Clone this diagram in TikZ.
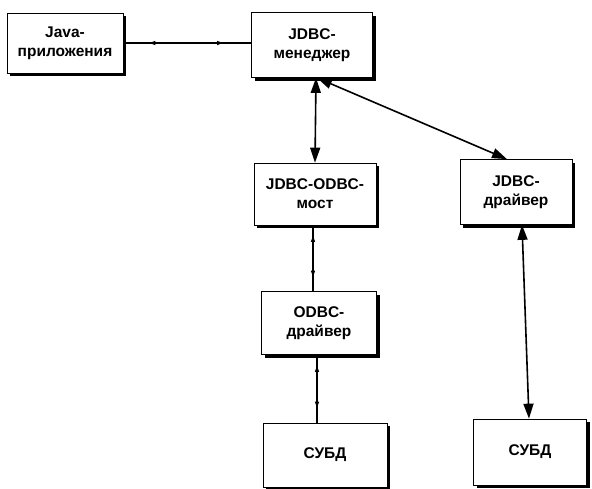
\documentclass[tikz,border=0pt]{standalone}
\usepackage{fontspec}
\setmainfont{Liberation Sans}
\usetikzlibrary{arrows.meta,decorations.markings,shadows}
\tikzset{
  dbox/.style={draw, fill=white, line width=0.7pt, rectangle, align=center, inner sep=0pt,
    font=\bfseries\fontsize{15.5}{19}\selectfont,
    drop shadow={shadow xshift=3pt, shadow yshift=-3pt, fill=black, opacity=1}},
  bigarrow/.style={line width=1.6pt, {Triangle[length=15pt,width=10pt]}-{Triangle[length=15pt,width=10pt]}},
  smallarrow/.style={line width=1.2pt, postaction={decorate},
    decoration={markings,
      mark=at position 0.25 with {\arrow{Triangle[length=6pt,width=4pt,reversed]}},
      mark=at position 0.78 with {\arrow{Triangle[length=6pt,width=4pt]}}}}
}
\begin{document}
\begin{tikzpicture}[x=1pt,y=-1pt]
\useasboundingbox (0,0) rectangle (592,488);
\node[dbox, minimum width=116pt, minimum height=60pt] (java) at (65,43) {Java-\\приложения};
\node[dbox, minimum width=121pt, minimum height=65pt] (mgr) at (312,45) {JDBC-\\менеджер};
\node[dbox, minimum width=122pt, minimum height=62pt] (bridge) at (315,194) {JDBC-ODBC-\\мост};
\node[dbox, minimum width=112pt, minimum height=65pt] (jdrv) at (516,192) {JDBC-\\драйвер};
\node[dbox, minimum width=115pt, minimum height=63pt] (odbc) at (319,323) {ODBC-\\драйвер};
\node[dbox, minimum width=124pt, minimum height=64pt] (dbl) at (325,455) {СУБД};
\node[dbox, minimum width=113pt, minimum height=66pt] (dbr) at (530,452) {СУБД};
\draw[smallarrow] (java.east) -- (java.east -| mgr.west);
\draw[bigarrow] ([xshift=1pt]bridge.north |- mgr.south) -- (bridge.north);
\draw[bigarrow] ([xshift=5pt]mgr.south) -- ([xshift=-9pt]jdrv.north);
\draw[bigarrow] ([xshift=6pt]jdrv.south) -- ([xshift=-1pt]dbr.north);
\draw[smallarrow] ([xshift=-2pt]bridge.south) -- ([xshift=-2pt]bridge.south |- odbc.north);
\draw[smallarrow] ([xshift=-2pt]odbc.south) -- ([xshift=-2pt]odbc.south |- dbl.north);
\end{tikzpicture}
\end{document}
